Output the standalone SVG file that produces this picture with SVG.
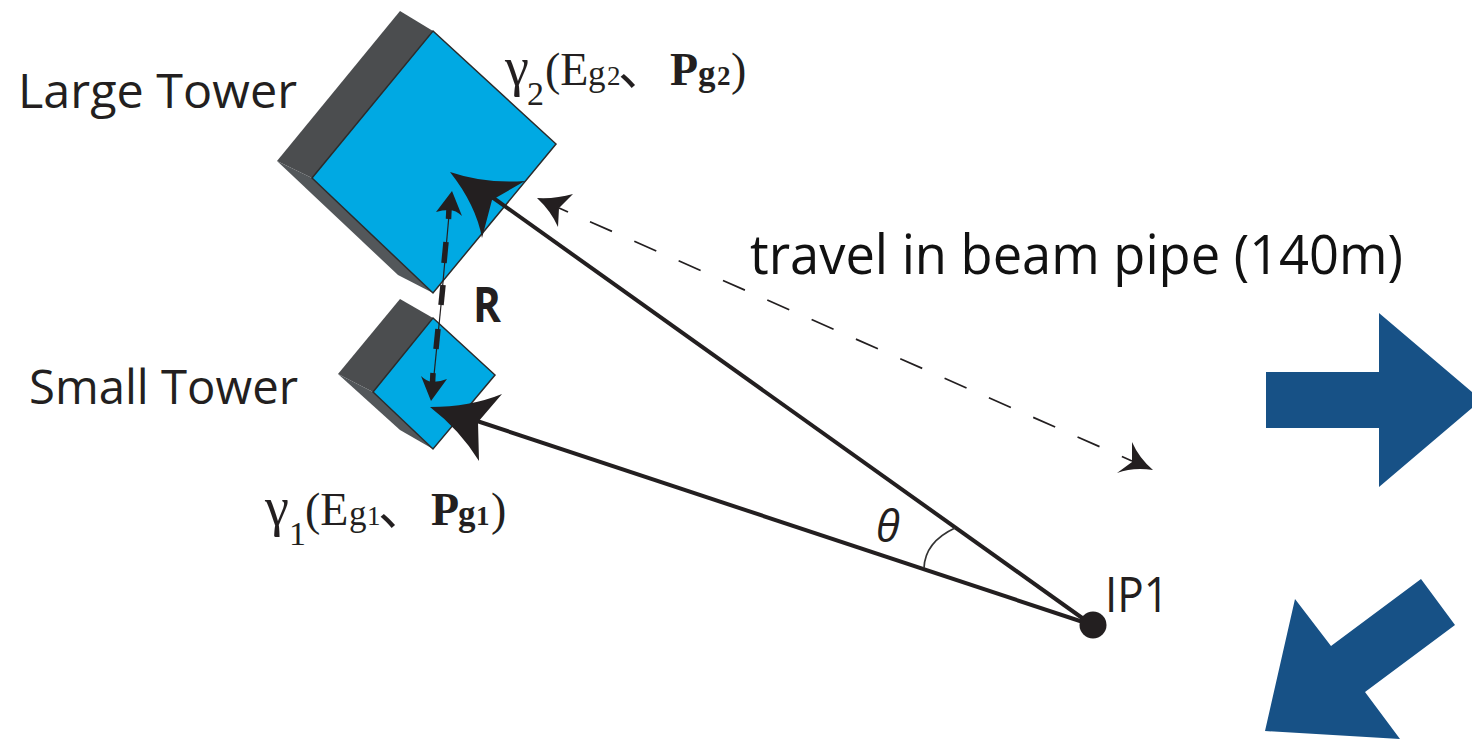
<svg xmlns="http://www.w3.org/2000/svg" width="1472" height="739" viewBox="0 0 1472 739">
<style>
.lbl{font-family:"Open Sans","Noto Sans","Liberation Sans",sans-serif;fill:#231f20}
.ser{font-family:"Liberation Serif","Noto Sans CJK SC",serif;fill:#231f20}
.gam{font-size:54px}
.big{font-size:46px}
.sub{font-size:34px}
.g{font-size:35px}
.d{font-size:27px}
.cjk{font-family:"Noto Sans CJK SC",sans-serif;font-size:50px;fill:#231f20}
.bp{font-size:46px;font-weight:700}
.bg{font-size:35px;font-weight:700}
.bd{font-size:27px;font-weight:700}
.dark{fill:#4b4d4f}
.side{fill:#53575a}
.face{fill:#00a9e3;stroke:#2b2b2b;stroke-width:1.5}
.ah{fill:#231f20}
.blue{fill:#175186}
.ray{stroke:#231f20;stroke-width:4;fill:none}
.thin{stroke:#231f20;stroke-width:1.2}
.thick{stroke:#231f20;stroke-width:5.5}
.dash{stroke:#231f20;stroke-width:1.7}
</style>
<rect width="1472" height="739" fill="#fff"/>
<g id="large-tower">
<polygon class="dark" points="400,11 433,31 312,178 277,161"/>
<polygon class="side" points="277,161 312,178 433,293 398,275"/>
<polygon class="face" points="433,31 556,144 433,293 312,178"/>
</g>
<g id="small-tower">
<polygon class="dark" points="400,299 433,318 373,392 338,374"/>
<polygon class="side" points="338,374 373,392 433,449 400,430"/>
<polygon class="face" points="433,318 495,375 433,449 373,392"/>
</g>
<g id="connectors">
<line class="ray" x1="1092" y1="625" x2="492" y2="197"/>
<line class="ray" x1="1092" y1="625" x2="474" y2="420"/>
<path class="ah" d="M450,172 Q485,184 525,181 L492,200 L482,238 Q476,205 450,172Z"/>
<path class="ah" d="M430,407 Q470,407 502,394 L478,422 L479,461 Q460,430 430,407Z"/>
<path d="M924,568 Q925,542 955,528" fill="none" stroke="#333" stroke-width="1.7"/>
<line class="dash" x1="590" y1="221.7" x2="1132" y2="461" stroke-dasharray="24 24.45"/>
<line class="dash" x1="559" y1="208" x2="568" y2="212"/>
<path class="ah" d="M537,198 Q556,199 573,194 L559,208 L558,227 Q551,211 537,198Z"/>
<path class="ah" d="M1153,470 Q1133,467 1117,473 L1132,462 L1132,442 Q1139,458 1153,470Z"/>
<line class="thin" x1="442" y1="293" x2="449" y2="215"/>
<path class="ah" d="M452,191 L462,216 Q456,210 449,210 Q442,210 436,212Z"/>
<line class="thick" x1="449" y1="209" x2="448.5" y2="219"/>
<line class="thick" x1="446" y1="242" x2="444" y2="263"/>
<line class="thick" x1="443" y1="285" x2="441" y2="305"/>
<line class="thin" x1="441" y1="305" x2="433" y2="385"/>
<line class="thick" x1="438" y1="329" x2="436" y2="349"/>
<line class="thick" x1="433" y1="373" x2="432.5" y2="383"/>
<path class="ah" d="M431,401 L421,376 Q426,381 432,382 Q440,382 447,379Z"/>
</g>
<g id="ip1">
<circle cx="1093" cy="625" r="13.5" fill="#231f20"/>
<text class="lbl" x="1105" y="612" font-size="49" textLength="64" lengthAdjust="spacingAndGlyphs">IP1</text>
</g>
<g id="labels">
<text class="lbl" x="18" y="108" font-size="47" textLength="279" lengthAdjust="spacingAndGlyphs">Large Tower</text>
<text class="lbl" x="29" y="404" font-size="47" textLength="269" lengthAdjust="spacingAndGlyphs">Small Tower</text>
<text class="lbl" x="750" y="274" font-size="54" textLength="653" lengthAdjust="spacingAndGlyphs" style="fill:#111">travel in beam pipe (140m)</text>
<text class="lbl" x="473" y="322" font-size="49" font-weight="700" textLength="28" lengthAdjust="spacingAndGlyphs">R</text>
<text class="lbl" x="876" y="542" font-size="44" font-style="italic">θ</text>
<text class="ser gam" x="505" y="85">γ</text>
<text class="ser sub" x="527" y="105">2</text>
<text class="ser big" x="545" y="85">(E</text>
<text class="ser g" x="588" y="85">g</text>
<text class="ser d" x="607" y="85">2</text>
<text class="cjk" x="618" y="85">、</text>
<text class="ser bp" x="670" y="85">P</text>
<text class="ser bg" x="698" y="85">g</text>
<text class="ser bd" x="717" y="85">2</text>
<text class="ser big" x="731" y="85">)</text>
<text class="ser gam" x="265" y="525">γ</text>
<text class="ser sub" x="289" y="545">1</text>
<text class="ser big" x="305" y="525">(E</text>
<text class="ser g" x="349" y="525">g</text>
<text class="ser d" x="367" y="525">1</text>
<text class="cjk" x="378" y="525">、</text>
<text class="ser bp" x="431" y="525">P</text>
<text class="ser bg" x="458" y="525">g</text>
<text class="ser bd" x="476" y="525">1</text>
<text class="ser big" x="491" y="525">)</text>
</g>
<g id="big-arrows">
<polygon class="blue" points="1266,372 1379,372 1379,313 1472,392 1472,408 1379,487 1379,428 1266,428"/>
<polygon class="blue" points="1421,579 1455,625 1365,692 1400,739 1265,731 1295,599 1331,646"/>
</g>
</svg>
